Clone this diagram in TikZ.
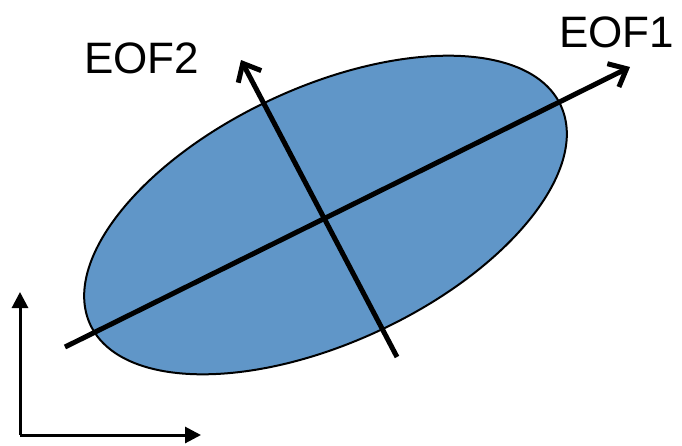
\documentclass[tikz,border=0pt]{standalone}
\usepackage{fontspec}
\setmainfont{Liberation Sans}
\usetikzlibrary{arrows.meta,shapes.geometric}
\definecolor{ellblue}{RGB}{96,150,200}
\tikzset{
  eofline/.style={line width=5pt, -{Straight Barb[length=15pt,width=26pt,line width=5pt]}},
  axisline/.style={line width=3pt, -{Triangle[length=16pt,width=16pt]}},
  eoflabel/.style={font=\fontsize{44}{48}\selectfont, inner sep=0pt, anchor=base west},
}
\begin{document}
\begin{tikzpicture}[x=1pt,y=-1pt]
\useasboundingbox (0,0) rectangle (682,445);
\node[ellipse, draw=black, line width=2pt, fill=ellblue, rotate=25,
      minimum width=519pt, minimum height=255pt, inner sep=0pt] (ell) at (325.5,215) {};
\coordinate (e1s) at (65,347);
\coordinate (e1e) at (630,67);
\coordinate (e2s) at (397,357);
\coordinate (e2e) at (241,60);
\draw[eofline] (e1s) -- (e1e);
\draw[eofline] (e2s) -- (e2e);
\node[eoflabel] (l1) at (559,47) {EOF1};
\node[eoflabel] (l2) at (84,73) {EOF2};
\coordinate (o) at (20,435);
\coordinate (ax) at (201,435);
\coordinate (ay) at (20,292);
\draw[axisline] (o) -- (ax);
\draw[axisline] (o) -- (ay);
\end{tikzpicture}
\end{document}
